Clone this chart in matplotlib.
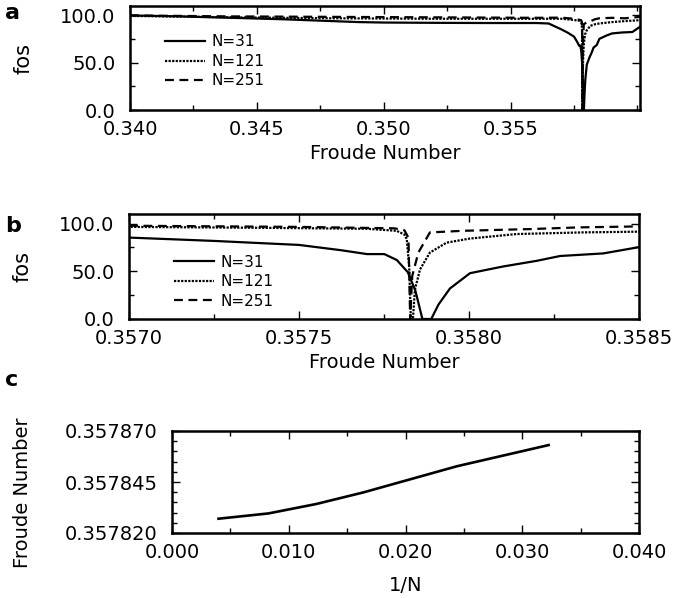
import matplotlib
matplotlib.use("Agg")
import matplotlib.pyplot as plt
from matplotlib.ticker import MultipleLocator, FormatStrFormatter

plt.rcParams['font.family'] = ['DejaVu Sans']
plt.rcParams['font.size'] = 14

# Dados ########################################################################

# painel a / b : fos vs Froude number
fr_31 = [0.3400, 0.3420, 0.3440, 0.3460, 0.3470, 0.3480, 0.3490, 0.3500, 0.3520,
         0.3540, 0.3560, 0.3565, 0.3567, 0.3570, 0.35725, 0.3575, 0.357625, 0.3577,
         0.357751, 0.357788, 0.35782, 0.357842, 0.357863, 0.357889, 0.35791, 0.357944,
         0.358003, 0.35810, 0.35820, 0.358268, 0.358395, 0.3585, 0.3588, 0.3590,
         0.3594, 0.3598, 0.3601]
fos_31 = [100.0, 99.0, 97.5, 96.0, 95.0, 94.0, 93.0, 92.5, 92.2,
          92.0, 92.0, 91.5, 89.0, 85.3, 81.8, 77.6, 72.0, 68.0,
          68.0, 61.7, 49.0, 30.0, 0.0, 0.0, 15.0, 32.0,
          48.0, 55.0, 61.0, 66.0, 68.7, 75.3, 79.0, 81.0,
          82.0, 82.5, 88.0]

fr_121 = [0.3400, 0.3440, 0.3480, 0.3520, 0.3560, 0.3570, 0.3574, 0.3577,
          0.357787, 0.357810, 0.357817, 0.357824, 0.357829, 0.357835, 0.357841,
          0.357856, 0.357885, 0.357934, 0.358003, 0.35814, 0.35833, 0.3585,
          0.3590, 0.3595, 0.3601]
fos_121 = [99.5, 98.0, 97.0, 96.5, 96.5, 96.5, 95.5, 94.5,
           92.4, 88.5, 83.6, 55.0, 0.0, 0.0, 30.9,
           52.0, 69.6, 80.0, 84.3, 89.0, 90.7, 91.5,
           93.0, 94.0, 95.0]

fr_251 = [0.3400, 0.3440, 0.3480, 0.3520, 0.3560, 0.3570, 0.3575, 0.35778,
          0.35781, 0.357822, 0.357827, 0.357833, 0.357851, 0.357885, 0.357983,
          0.358179, 0.358326, 0.3585, 0.3590, 0.3595, 0.3601]
fos_251 = [100.0, 99.0, 98.5, 98.0, 97.5, 97.7, 96.5, 95.0,
           93.0, 85.0, 0.0, 45.0, 69.6, 90.7, 92.4,
           94.2, 96.0, 97.0, 97.5, 97.0, 98.5]

# painel c : Froude number da ressonancia vs 1/N
inv_n = [1/251, 1/121, 1/81, 1/61, 1/41, 1/31]
fr_res = [0.3578270, 0.3578296, 0.3578342, 0.3578399, 0.3578527, 0.3578631]

legendas = ["N=31", "N=121", "N=251"]
estilos = ["-", (0, (1, 0.6)), (0, (4, 2.5))]

# Figura #######################################################################

W, H = 673, 598
fig = plt.figure(figsize=(W/100, H/100), dpi=100)

def eixo(l, r, t, b):
    return fig.add_axes([l/W, 1 - b/H, (r - l)/W, (b - t)/H])

ax_a = eixo(130, 640, 6, 110)
ax_b = eixo(129, 639, 214, 319)
ax_c = eixo(172, 639, 431, 533)

def estilo_eixo(ax):
    for s in ax.spines.values():
        s.set_linewidth(1.8)
    ax.tick_params(which='both', direction='in', top=True, right=True, width=1.0)
    ax.tick_params(which='major', length=6)
    ax.tick_params(which='minor', length=3.5)
    ax.tick_params(axis='x', which='major', pad=7)
    ax.tick_params(axis='y', which='major', pad=10.5)

dados = [(fr_31, fos_31), (fr_121, fos_121), (fr_251, fos_251)]

# painel a
for (x, y), ls, lab in zip(dados, estilos, legendas):
    ax_a.plot(x, y, color='black', linestyle=ls, linewidth=1.6, label=lab)
ax_a.set_xlim(0.340, 0.3601)
ax_a.set_ylim(0, 110)
ax_a.set_xticks([0.340, 0.345, 0.350, 0.355])
ax_a.xaxis.set_minor_locator(MultipleLocator(0.0025))
ax_a.xaxis.set_major_formatter(FormatStrFormatter('%.3f'))
ax_a.set_yticks([0, 50, 100])
ax_a.yaxis.set_minor_locator(MultipleLocator(25))
ax_a.yaxis.set_major_formatter(FormatStrFormatter('%.1f'))
ax_a.set_xlabel("Froude Number", fontsize=14, labelpad=4)
ax_a.set_ylabel("fos", fontsize=15)
ax_a.yaxis.set_label_coords(-0.19, 0.5)
estilo_eixo(ax_a)
ax_a.legend(loc='upper left', bbox_to_anchor=(0.042, 0.86), frameon=False,
            fontsize=11, handlelength=2.6, handletextpad=0.45, labelspacing=0.3)

# painel b
for (x, y), ls, lab in zip(dados, estilos, legendas):
    ax_b.plot(x, y, color='black', linestyle=ls, linewidth=1.6, label=lab)
ax_b.set_xlim(0.3570, 0.3585)
ax_b.set_ylim(0, 110)
ax_b.set_xticks([0.3570, 0.3575, 0.3580, 0.3585])
ax_b.xaxis.set_minor_locator(MultipleLocator(0.00025))
ax_b.xaxis.set_major_formatter(FormatStrFormatter('%.4f'))
ax_b.set_yticks([0, 50, 100])
ax_b.yaxis.set_minor_locator(MultipleLocator(25))
ax_b.yaxis.set_major_formatter(FormatStrFormatter('%.1f'))
ax_b.set_xlabel("Froude Number", fontsize=14, labelpad=4)
ax_b.set_ylabel("fos", fontsize=15)
ax_b.yaxis.set_label_coords(-0.19, 0.5)
estilo_eixo(ax_b)
ax_b.legend(loc='upper left', bbox_to_anchor=(0.062, 0.745), frameon=False,
            fontsize=11, handlelength=2.6, handletextpad=0.45, labelspacing=0.3)

# painel c
ax_c.plot(inv_n, fr_res, color='black', linewidth=1.9)
ax_c.set_xlim(0.0, 0.040)
ax_c.set_ylim(0.357820, 0.357870)
ax_c.set_xticks([0.000, 0.010, 0.020, 0.030, 0.040])
ax_c.xaxis.set_minor_locator(MultipleLocator(0.005))
ax_c.xaxis.set_major_formatter(FormatStrFormatter('%.3f'))
ax_c.set_yticks([0.357820, 0.357845, 0.357870])
ax_c.yaxis.set_minor_locator(MultipleLocator(0.000005))
ax_c.yaxis.set_major_formatter(FormatStrFormatter('%.6f'))
ax_c.set_xlabel("1/N", fontsize=14, labelpad=10)
ax_c.set_ylabel("Froude Number", fontsize=14)
ax_c.yaxis.set_label_coords(-0.30, 0.40)
estilo_eixo(ax_c)

# letras dos paineis
for letra, y in [("a", 13), ("b", 226), ("c", 380)]:
    fig.text(5/W, 1 - y/H, letra, fontsize=16, fontweight='bold', va='center')

fig.savefig("out.png", dpi=100)
